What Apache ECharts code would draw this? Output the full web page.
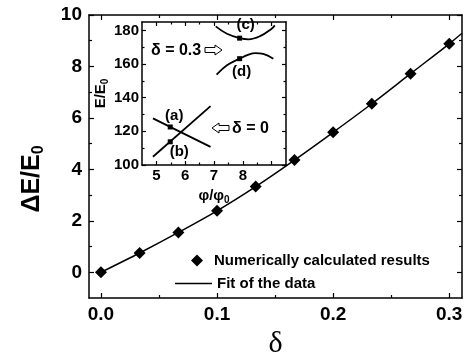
<!DOCTYPE html>
<html><head><meta charset="utf-8">
<script src="https://cdn.jsdelivr.net/npm/echarts@6/dist/echarts.min.js"></script>
<style>html,body{margin:0;padding:0;background:#fff}#c{width:467px;height:353px}</style>
</head><body><div id="c"></div>
<script>
// ---- main data ----
const deltaValues  = [0, 0.0333, 0.0667, 0.1, 0.1333, 0.1667, 0.2, 0.2333, 0.2667, 0.3];
const energyValues = [0, 0.75, 1.55, 2.39, 3.33, 4.36, 5.44, 6.55, 7.72, 8.88];
const fitDelta  = [0, 0.0333, 0.0667, 0.1, 0.1333, 0.1667, 0.2, 0.2333, 0.2667, 0.3, 0.311];
const fitEnergy = [0, 0.75, 1.55, 2.39, 3.33, 4.36, 5.44, 6.55, 7.72, 8.88, 9.29];
const mainXTicks = [0, 0.1, 0.2, 0.3];
const mainXMinor = [0.05, 0.15, 0.25];
const mainYTicks = [0, 2, 4, 6, 8, 10];
const mainYMinor = [1, 3, 5, 7, 9];
// ---- inset data ----
const lineAPhi = [4.88, 6.88], lineAE = [127.7, 110.8];
const lineBPhi = [4.88, 6.88], lineBE = [104.9, 135.0];
const curveCPhi = [7.06, 7.45, 7.89, 8.20, 8.60, 9.00, 9.11];
const curveCE   = [182.4, 178.0, 175.4, 174.7, 176.6, 181.0, 183.0];
const curveDPhi = [7.09, 7.45, 7.89, 8.20, 8.43, 8.71, 9.06];
const curveDE   = [153.7, 159.3, 163.2, 165.6, 166.5, 166.0, 163.2];
const pointNames = ['(a)', '(b)', '(c)', '(d)'];
const pointPhi = [5.48, 5.48, 7.89, 7.89];
const pointE   = [122.6, 113.8, 175.4, 163.2];
const insetXTicks = [5, 6, 7, 8, 9];
const insetXLabels = [5, 6, 7, 8];
const insetXMinor = [5.5, 6.5, 7.5, 8.5];
const insetYTicks = [100, 120, 140, 160, 180];
const insetYMinor = [110, 130, 150, 170];

const zip = (a, b) => a.map((v, i) => [v, b[i]]);
const FONT = 'Liberation Sans, Arial, Helvetica, sans-serif';

function axis(grid, pos, min, max, ticks, len, showLine, label) {
  return {
    type: 'value', gridIndex: grid, position: pos, min: min, max: max,
    axisLine: {show: showLine, onZero: false, lineStyle: {color: '#000', width: 1.5}},
    axisTick: {show: true, inside: true, length: len, customValues: ticks, lineStyle: {color: '#000', width: 1.2}},
    axisLabel: label || {show: false},
    splitLine: {show: false}
  };
}
function labels(vals, size, fmt, margin) {
  return {show: true, customValues: vals, fontFamily: FONT, fontWeight: 'bold', fontSize: size, color: '#000', margin: margin, formatter: fmt};
}

const xMin = -0.0103, xMax = 0.311, yMin = -1, yMax = 10;
const ixMin = 4.5, ixMax = 9.5, iyMin = 100, iyMax = 185;
const mainRect = {left: 89, right: 5, top: 15, bottom: 55, outerBoundsMode: 'none', containLabel: false};
const insetRect = {left: 142, top: 22, width: 144, height: 143, outerBoundsMode: 'none', containLabel: false};

const xAxes = [
  Object.assign(axis(0, 'bottom', xMin, xMax, mainXTicks, 5, true, labels(mainXTicks, 19, v => v.toFixed(1), 7)), {
    name: 'δ', nameLocation: 'middle', nameGap: 30,
    nameTextStyle: {fontFamily: 'Liberation Serif, serif', fontSize: 30, color: '#000'}
  }),
  axis(0, 'top', xMin, xMax, mainXTicks, 5, true),
  axis(1, 'bottom', xMin, xMax, mainXMinor, 3, false),
  axis(1, 'top', xMin, xMax, mainXMinor, 3, false),
  Object.assign(axis(2, 'bottom', ixMin, ixMax, insetXTicks, 4, true, labels(insetXLabels, 15, v => String(v), 3)), {
    name: '{n|φ/φ}{s|0}', nameLocation: 'middle', nameGap: 21,
    nameTextStyle: {rich: {
      n: {fontFamily: FONT, fontWeight: 'bold', fontSize: 15, color: '#000'},
      s: {fontFamily: FONT, fontWeight: 'bold', fontSize: 10, color: '#000', verticalAlign: 'bottom', padding: [9, 0, 0, 0]}
    }}
  }),
  axis(2, 'top', ixMin, ixMax, insetXTicks, 4, true),
  axis(3, 'bottom', ixMin, ixMax, insetXMinor, 2.5, false),
  axis(3, 'top', ixMin, ixMax, insetXMinor, 2.5, false)
];
const yAxes = [
  axis(0, 'left', yMin, yMax, mainYTicks, 5, true, labels(mainYTicks, 19, v => String(v), 7)),
  axis(0, 'right', yMin, yMax, mainYTicks, 5, true),
  axis(1, 'left', yMin, yMax, mainYMinor, 3, false),
  axis(1, 'right', yMin, yMax, mainYMinor, 3, false),
  Object.assign(axis(2, 'left', iyMin, iyMax, insetYTicks, 4, true, labels(insetYTicks, 15, v => String(v), 3)), {
    name: '{n|E/E}{s|0}', nameLocation: 'middle', nameGap: 30, nameRotate: 90,
    nameTextStyle: {rich: {
      n: {fontFamily: FONT, fontWeight: 'bold', fontSize: 15, color: '#000'},
      s: {fontFamily: FONT, fontWeight: 'bold', fontSize: 10, color: '#000', verticalAlign: 'bottom', padding: [8, 0, 0, 0]}
    }}
  }),
  axis(2, 'right', iyMin, iyMax, insetYTicks, 4, true),
  axis(3, 'left', iyMin, iyMax, insetYMinor, 2.5, false),
  axis(3, 'right', iyMin, iyMax, insetYMinor, 2.5, false)
];

const option = {
  animation: false,
  backgroundColor: '#fff',
  grid: [
    Object.assign({}, mainRect),
    Object.assign({}, mainRect),
    Object.assign({show: true, backgroundColor: '#fff', borderWidth: 0}, insetRect),
    Object.assign({}, insetRect)
  ],
  xAxis: xAxes,
  yAxis: yAxes,
  legend: [
    {data: [{name: 'Numerically calculated results', icon: 'diamond'}], left: 191, top: 253, padding: 0,
     itemWidth: 12, itemHeight: 12, itemGap: 0,
     textStyle: {fontFamily: FONT, fontWeight: 'bold', fontSize: 15, color: '#000', padding: [0, 0, 0, 6]}},
    {data: [{name: 'Fit of the data', icon: 'rect'}], left: 175, top: 276, padding: 0, itemWidth: 37, itemHeight: 1.5, itemGap: 0,
     textStyle: {fontFamily: FONT, fontWeight: 'bold', fontSize: 15, color: '#000'}}
  ],
  series: [
    {name: 'Fit of the data', type: 'line', xAxisIndex: 0, yAxisIndex: 0, smooth: 0.3,
     symbol: 'none', lineStyle: {color: '#000', width: 1.5}, itemStyle: {color: '#000'},
     data: zip(fitDelta, fitEnergy), z: 2},
    {name: 'Numerically calculated results', type: 'scatter', xAxisIndex: 0, yAxisIndex: 0,
     symbol: 'diamond', symbolSize: 12, itemStyle: {color: '#000', opacity: 1},
     data: zip(deltaValues, energyValues), z: 3},
    {type: 'line', xAxisIndex: 4, yAxisIndex: 4, symbol: 'none', lineStyle: {color: '#000', width: 1.8},
     data: zip(lineAPhi, lineAE), z: 6},
    {type: 'line', xAxisIndex: 4, yAxisIndex: 4, symbol: 'none', lineStyle: {color: '#000', width: 1.8},
     data: zip(lineBPhi, lineBE), z: 6},
    {type: 'line', xAxisIndex: 4, yAxisIndex: 4, symbol: 'none', smooth: 0.4, lineStyle: {color: '#000', width: 1.8},
     data: zip(curveCPhi, curveCE), z: 6},
    {type: 'line', xAxisIndex: 4, yAxisIndex: 4, symbol: 'none', smooth: 0.4, lineStyle: {color: '#000', width: 1.8},
     data: zip(curveDPhi, curveDE), z: 6},
    {type: 'scatter', xAxisIndex: 4, yAxisIndex: 4, symbol: 'rect', symbolSize: 5, itemStyle: {color: '#000', opacity: 1}, z: 7,
     label: {show: true, formatter: p => p.name, fontFamily: FONT, fontWeight: 'bold', fontSize: 15, color: '#000'},
     data: pointNames.map((n, i) => ({name: n, value: [pointPhi[i], pointE[i]],
       label: {position: 'inside', offset: [[4, -11], [9, 10], [6, -13], [2, 13]][i]}}))}
  ],
  graphic: [
    {type: 'text', x: 32, y: 179, rotation: Math.PI / 2, z: 10,
     style: {text: '{n|ΔE/E}{s|0}', align: 'center', verticalAlign: 'middle',
       rich: {
         n: {fontFamily: FONT, fontWeight: 'bold', fontSize: 25, fill: '#000'},
         s: {fontFamily: FONT, fontWeight: 'bold', fontSize: 16, fill: '#000', verticalAlign: 'bottom', padding: [13, 0, 0, 0]}
       }}},
    {type: 'text', left: 151, top: 43, z: 10, style: {text: 'δ = 0.3', font: 'bold 16px ' + FONT, fill: '#000'}},
    {type: 'polygon', z: 10, shape: {points: [[205, 47.5], [215, 47.5], [215, 45], [222, 50], [215, 55], [215, 52.5], [205, 52.5]]},
     style: {fill: '#fff', stroke: '#000', lineWidth: 1}},
    {type: 'polygon', z: 10, shape: {points: [[229, 125.5], [219, 125.5], [219, 123], [212, 128], [219, 133], [219, 130.5], [229, 130.5]]},
     style: {fill: '#fff', stroke: '#000', lineWidth: 1}},
    {type: 'text', left: 232, top: 121, z: 10, style: {text: 'δ = 0', font: 'bold 16px ' + FONT, fill: '#000'}}
  ]
};
const chart = echarts.init(document.getElementById('c'), null, {renderer: 'canvas'});
chart.setOption(option);
</script></body></html>
